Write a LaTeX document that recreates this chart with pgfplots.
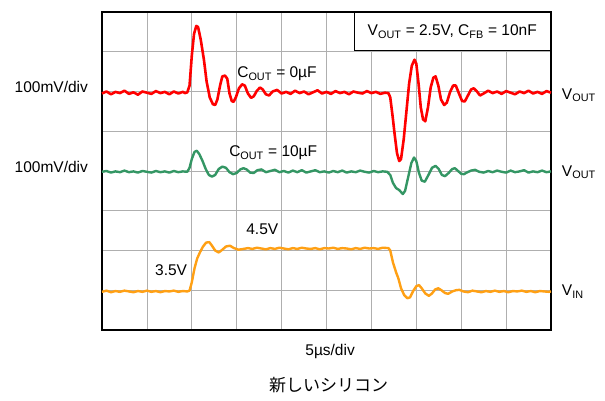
\documentclass[border=0pt]{standalone}
\usepackage{pgfplots}
\pgfplotsset{compat=1.18}
\usepackage{fontspec}
\setmainfont{Liberation Sans}
\newfontfamily\cjk{Noto Sans CJK JP}
\definecolor{tred}{RGB}{255,0,0}
\definecolor{tgreen}{RGB}{52,150,100}
\definecolor{torange}{RGB}{255,160,20}
\definecolor{gridc}{RGB}{175,175,175}
\begin{document}
\begin{tikzpicture}
\useasboundingbox (0,0) rectangle (605bp,401bp);
\begin{axis}[
  at={(102bp,71bp)}, anchor=south west,
  width=449bp, height=318bp, scale only axis,
  xmin=0, xmax=10, ymin=0, ymax=8,
  xtick={0,...,10}, ytick={0,...,8},
  xticklabels={}, yticklabels={},
  major tick length=0pt,
  grid=major,
  major grid style={draw=gridc, line width=0.8bp},
  axis line style={line width=2.4bp},
  clip=false,
  font=\fontsize{15.5bp}{18bp}\selectfont,
]
% red: C_OUT = 0uF
\addplot[tred, line width=2.6bp, line join=round] coordinates {
(0,5.95)(0.1,6.00)(0.2,5.93)(0.3,5.99)(0.4,5.96)(0.5,6.02)(0.6,5.94)(0.7,5.98)(0.8,5.92)(0.9,6.00)
(1.0,5.97)(1.1,5.94)(1.2,6.01)(1.3,5.96)(1.4,5.99)(1.5,5.93)(1.6,6.00)(1.7,5.95)(1.8,5.99)(1.85,5.96)(1.90,5.98)
(1.95,6.15)(2.00,6.90)(2.05,7.45)(2.10,7.65)(2.14,7.62)(2.20,7.30)(2.27,6.80)(2.33,6.25)(2.40,5.85)(2.47,5.68)
(2.52,5.66)(2.57,5.80)(2.63,6.15)(2.68,6.38)(2.74,6.40)(2.79,6.32)(2.84,5.95)(2.89,5.76)(2.93,5.74)(2.98,5.85)
(3.05,6.08)(3.12,6.18)(3.18,6.15)(3.25,5.95)(3.32,5.84)(3.38,5.88)(3.45,6.02)(3.52,6.10)(3.58,6.05)(3.65,5.93)
(3.72,5.90)(3.8,6.00)(3.9,6.04)(4.0,5.95)(4.1,5.99)(4.2,5.94)(4.3,6.02)(4.4,5.96)(4.5,6.00)(4.6,5.93)
(4.7,5.98)(4.8,6.03)(4.9,5.95)(5.0,5.99)(5.1,5.94)(5.2,6.01)(5.3,5.96)(5.4,5.99)(5.5,5.93)(5.6,6.00)
(5.7,5.97)(5.8,5.95)(5.9,6.01)(6.0,5.96)(6.1,5.99)(6.2,5.94)(6.3,5.97)(6.38,5.96)
(6.42,5.85)(6.47,5.40)(6.52,4.90)(6.57,4.45)(6.62,4.25)(6.66,4.30)(6.72,4.80)(6.78,5.50)(6.84,6.20)(6.90,6.65)
(6.96,6.80)(7.00,6.70)(7.05,6.20)(7.10,5.60)(7.15,5.30)(7.20,5.25)(7.26,5.60)(7.32,6.10)(7.38,6.35)(7.43,6.38)
(7.49,6.15)(7.55,5.80)(7.62,5.66)(7.68,5.72)(7.75,5.98)(7.82,6.15)(7.88,6.15)(7.95,5.95)(8.02,5.76)(8.08,5.75)
(8.15,5.90)(8.22,6.05)(8.28,6.08)(8.35,6.00)(8.42,5.90)(8.5,5.95)(8.6,6.02)(8.7,5.96)(8.8,6.00)(8.9,5.94)
(9.0,6.01)(9.1,5.97)(9.2,5.93)(9.3,6.00)(9.4,5.96)(9.5,6.02)(9.6,5.95)(9.7,5.99)(9.8,5.94)(9.9,6.01)(10.0,5.97)
};
% green: C_OUT = 10uF
\addplot[tgreen, line width=2.4bp, line join=round] coordinates {
(0,3.98)(0.1,4.00)(0.2,3.96)(0.3,3.99)(0.4,3.97)(0.5,4.01)(0.6,3.97)(0.7,3.99)(0.8,3.96)(0.9,4.00)
(1.0,3.98)(1.1,3.96)(1.2,4.00)(1.3,3.97)(1.4,3.99)(1.5,3.96)(1.6,4.00)(1.7,3.97)(1.8,3.99)(1.9,3.98)
(1.95,4.08)(2.00,4.30)(2.06,4.48)(2.11,4.51)(2.17,4.42)(2.24,4.25)(2.31,4.05)(2.38,3.90)(2.45,3.86)(2.52,3.90)
(2.60,4.05)(2.68,4.11)(2.76,4.08)(2.84,3.97)(2.92,3.92)(3.00,3.95)(3.08,4.04)(3.15,4.07)(3.22,4.04)(3.30,3.96)
(3.38,3.95)(3.46,4.02)(3.55,4.04)(3.65,3.97)(3.75,4.00)(3.85,4.03)(3.95,3.97)(4.05,4.00)(4.15,3.96)(4.25,4.01)
(4.35,3.97)(4.45,4.02)(4.55,3.96)(4.65,3.99)(4.75,4.02)(4.85,3.97)(4.95,3.99)(5.05,3.96)(5.15,4.00)(5.25,3.97)
(5.35,4.01)(5.45,3.96)(5.55,3.99)(5.65,3.97)(5.75,4.01)(5.85,3.98)(5.95,3.96)(6.05,4.00)(6.15,3.97)(6.25,3.99)(6.35,3.98)
(6.42,3.90)(6.48,3.70)(6.55,3.57)(6.62,3.52)(6.70,3.42)(6.75,3.50)(6.82,3.85)(6.89,4.20)(6.95,4.34)(7.00,4.25)
(7.06,3.95)(7.12,3.76)(7.19,3.73)(7.27,3.90)(7.35,4.08)(7.43,4.13)(7.50,4.05)(7.57,3.90)(7.64,3.87)(7.72,3.95)
(7.80,4.05)(7.86,4.07)(7.93,4.00)(8.00,3.93)(8.06,3.92)(8.14,3.97)(8.22,4.01)(8.31,4.03)(8.40,3.98)(8.5,3.96)
(8.6,4.00)(8.7,3.97)(8.8,4.01)(8.9,3.98)(9.0,3.96)(9.1,4.01)(9.2,3.97)(9.3,3.99)(9.4,4.02)(9.5,3.96)
(9.6,3.99)(9.7,3.97)(9.8,4.01)(9.9,3.97)(10.0,3.99)
};
% orange: V_IN
\addplot[torange, line width=2.4bp, line join=round] coordinates {
(0,0.96)(0.1,0.99)(0.2,0.95)(0.3,0.98)(0.4,0.96)(0.5,0.99)(0.6,0.97)(0.7,0.95)(0.8,0.98)(0.9,0.96)
(1.0,0.99)(1.1,0.96)(1.2,0.98)(1.3,0.95)(1.4,0.98)(1.5,0.97)(1.6,0.99)(1.7,0.96)(1.8,0.98)(1.9,0.97)(1.95,0.99)
(2.00,1.20)(2.06,1.55)(2.12,1.80)(2.18,1.95)(2.25,2.10)(2.32,2.20)(2.39,2.21)(2.45,2.12)(2.52,2.00)(2.60,1.95)
(2.68,2.02)(2.76,2.10)(2.85,2.12)(2.94,2.06)(3.04,2.02)(3.15,2.04)(3.25,2.06)(3.35,2.04)(3.45,2.07)(3.55,2.05)
(3.65,2.03)(3.75,2.06)(3.85,2.04)(3.95,2.07)(4.05,2.05)(4.15,2.03)(4.25,2.06)(4.35,2.04)(4.45,2.07)(4.55,2.05)
(4.65,2.04)(4.75,2.06)(4.85,2.03)(4.95,2.06)(5.05,2.05)(5.15,2.07)(5.25,2.04)(5.35,2.06)(5.45,2.05)(5.55,2.03)
(5.65,2.06)(5.75,2.04)(5.85,2.07)(5.95,2.05)(6.05,2.06)(6.15,2.04)(6.25,2.07)(6.38,2.06)
(6.42,2.00)(6.48,1.70)(6.55,1.45)(6.60,1.30)(6.66,1.05)(6.73,0.88)(6.80,0.80)(6.86,0.82)(6.93,0.98)(7.00,1.10)
(7.06,1.13)(7.12,1.05)(7.20,0.92)(7.28,0.86)(7.35,0.92)(7.42,1.02)(7.49,1.05)(7.56,1.00)(7.64,0.93)(7.71,0.91)
(7.80,0.97)(7.88,1.00)(7.96,1.01)(8.05,0.97)(8.15,0.95)(8.25,0.99)(8.35,0.97)(8.45,0.95)(8.55,0.98)(8.65,0.96)
(8.75,0.99)(8.85,0.96)(8.95,0.98)(9.05,0.95)(9.15,0.98)(9.25,0.97)(9.35,0.99)(9.45,0.96)(9.55,0.98)(9.65,0.95)
(9.75,0.98)(9.85,0.97)(9.95,0.96)(10.0,0.97)
};
% annotations
\node[anchor=west, inner sep=0pt] at (axis cs:3.01,6.44) {C\textsubscript{OUT} = 0µF};
\node[anchor=west, inner sep=0pt] at (axis cs:2.83,4.45) {C\textsubscript{OUT} = 10µF};
\node[anchor=west, inner sep=0pt] at (axis cs:3.21,2.54) {4.5V};
\node[anchor=west, inner sep=0pt] at (axis cs:1.18,1.51) {3.5V};
\node[anchor=east, inner sep=0pt] at (axis cs:-0.31,6.11) {100mV/div};
\node[anchor=east, inner sep=0pt] at (axis cs:-0.31,4.10) {100mV/div};
\node[anchor=west, inner sep=0pt] at (axis cs:10.24,5.91) {V\textsubscript{OUT}};
\node[anchor=west, inner sep=0pt] at (axis cs:10.24,3.97) {V\textsubscript{OUT}};
\node[anchor=west, inner sep=0pt] at (axis cs:10.24,0.96) {V\textsubscript{IN}};
\node[inner sep=0pt] at (axis cs:5.08,-0.55) {5µs/div};
\node[inner sep=0pt] at (axis cs:5.05,-1.38) {\cjk\fontsize{17bp}{20bp}\selectfont 新しいシリコン};
\node[draw, line width=1.5bp, fill=white, anchor=north east, minimum width=196bp, minimum height=38bp, inner sep=0pt]
  at (axis cs:10,8) {V\textsubscript{OUT} = 2.5V, C\textsubscript{FB} = 10nF};
\end{axis}
\end{tikzpicture}
\end{document}
